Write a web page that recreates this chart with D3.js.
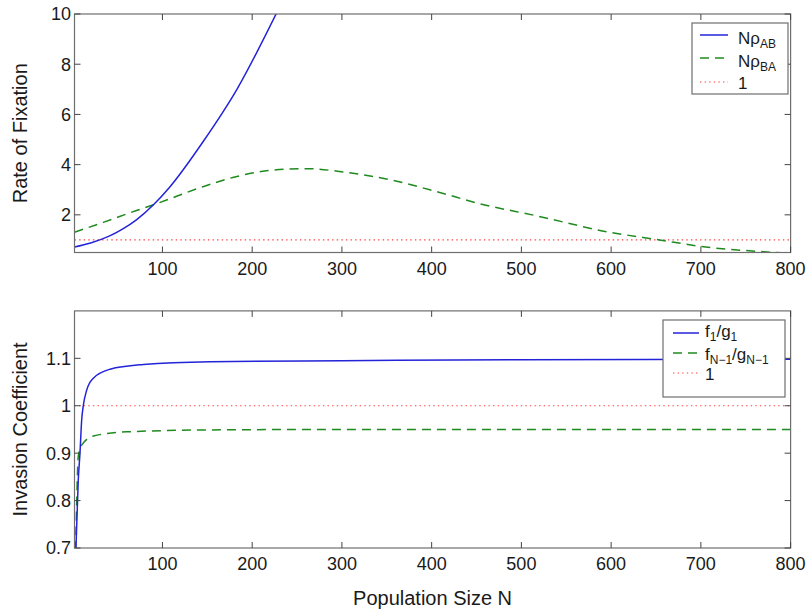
<!DOCTYPE html>
<html><head><meta charset="utf-8">
<script src="https://cdn.jsdelivr.net/npm/d3@7"></script>
<style>body{margin:0;background:#fff}svg{display:block;font-family:"Liberation Sans",Arial,Helvetica,sans-serif}</style>
</head><body><svg id="c" width="807" height="613"></svg>
<script>
// ---- data ----
const xTicks = [100, 200, 300, 400, 500, 600, 700, 800];
const topYTicks = [2, 4, 6, 8, 10];
const botYTicks = [0.7, 0.8, 0.9, 1, 1.1];

// top panel: N*rho_AB
const nAB   = [2, 20, 40, 55, 71, 90, 108, 146, 183, 228];
const rhoAB = [0.72, 0.88, 1.14, 1.42, 1.8, 2.4, 3.1, 4.95, 7.0, 10.1];
// top panel: N*rho_BA
const nBA   = [2, 34, 71, 90, 146, 183, 242, 261, 301, 357, 409, 454, 517, 595, 654, 703, 770, 800];
const rhoBA = [1.31, 1.7, 2.17, 2.4, 3.13, 3.53, 3.83, 3.84, 3.71, 3.37, 2.89, 2.44, 1.96, 1.33, 1.0, 0.73, 0.53, 0.47];
// bottom panel: f1/g1
const nF1 = [2, 3.7, 6.2, 8.1, 10, 11.8, 15.6, 23, 41.6, 78.7, 153, 300, 500, 800];
const f1g1 = [0.6, 0.703, 0.843, 0.9, 0.97, 1.0, 1.033, 1.058, 1.077, 1.087, 1.093, 1.095, 1.097, 1.098];
// bottom panel: f_{N-1}/g_{N-1}
const nFN = [2, 3.7, 6.2, 10, 23, 60, 153, 300, 500, 800];
const fNgN = [0.6, 0.738, 0.893, 0.917, 0.936, 0.945, 0.949, 0.95, 0.95, 0.95];
// reference line
const refN = [2, 800];
const refV = [1, 1];

// ---- layout ----
const svg = d3.select("#c");
const L = 74.5, R = 790.6;
const x = d3.scaleLinear().domain([2, 800]).range([L, R]);
const panels = [
  {y: d3.scaleLinear().domain([0.5, 10]).range([252.5, 14]), ticks: topYTicks, fmt: d3.format("d"),
   title: "Rate of Fixation", id: "t",
   series: [
     {n: nAB, v: rhoAB, color: "#2323d8", dash: null},
     {n: nBA, v: rhoBA, color: "#1f8a1f", dash: "9,6"},
     {n: refN, v: refV, color: "#ff4040", dash: "1.4,3.2", w: 1.2}
   ],
   legend: {x: 692, y: 23, w: 96, h: 71, sx0: 700, sx1: 728, tx: 738, rows: [35, 58, 82], base: [44, 67, 89],
     labels: [[["Nρ", 0], ["AB", 1]], [["Nρ", 0], ["BA", 1]], [["1", 0]]]}},
  {y: d3.scaleLinear().domain([0.7, 1.2]).range([548, 310.9]), ticks: botYTicks, fmt: d => String(+d.toFixed(1)),
   title: "Invasion Coefficient", id: "b",
   series: [
     {n: nF1, v: f1g1, color: "#2323d8", dash: null},
     {n: nFN, v: fNgN, color: "#1f8a1f", dash: "9,6"},
     {n: refN, v: refV, color: "#ff4040", dash: "1.4,3.2", w: 1.2}
   ],
   legend: {x: 663, y: 320, w: 122, h: 77, sx0: 673, sx1: 699, tx: 705, rows: [333, 353, 373], base: [337, 360, 380],
     labels: [[["f", 0], ["1", 1], ["/g", 0], ["1", 1]], [["f", 0], ["N−1", 1], ["/g", 0], ["N−1", 1]], [["1", 0]]]}}
];

const defs = svg.append("defs");
panels.forEach(p => {
  const [y0, y1] = p.y.range();
  defs.append("clipPath").attr("id", "clip" + p.id).append("rect")
    .attr("x", L).attr("y", y1).attr("width", R - L).attr("height", y0 - y1);

  const g = svg.append("g");
  const line = d3.line().x(d => x(d[0])).y(d => p.y(d[1])).curve(d3.curveMonotoneX);
  const lg = g.append("g").attr("clip-path", `url(#clip${p.id})`);
  [2, 1, 0].forEach(i => {
    const s = p.series[i];
    lg.append("path").attr("d", line(s.n.map((n, k) => [n, s.v[k]])))
      .attr("fill", "none").attr("stroke", s.color).attr("stroke-width", s.w || 1.5)
      .attr("stroke-dasharray", s.dash);
  });

  // frame
  g.append("rect").attr("x", L).attr("y", y1).attr("width", R - L).attr("height", y0 - y1)
    .attr("fill", "none").attr("stroke", "#6e6e6e").attr("stroke-width", 1.2);
  const tl = 6;
  xTicks.forEach(t => {
    g.append("line").attr("x1", x(t)).attr("x2", x(t)).attr("y1", y0).attr("y2", y0 - tl).attr("stroke", "#444");
    g.append("line").attr("x1", x(t)).attr("x2", x(t)).attr("y1", y1).attr("y2", y1 + tl).attr("stroke", "#444");
    g.append("text").attr("x", x(t)).attr("y", y0 + 22).attr("text-anchor", "middle")
      .attr("font-size", 18).attr("fill", "#1a1a1a").text(t);
  });
  p.ticks.forEach(t => {
    g.append("line").attr("x1", L).attr("x2", L + tl).attr("y1", p.y(t)).attr("y2", p.y(t)).attr("stroke", "#444");
    g.append("line").attr("x1", R).attr("x2", R - tl).attr("y1", p.y(t)).attr("y2", p.y(t)).attr("stroke", "#444");
    g.append("text").attr("x", 71).attr("y", p.y(t)).attr("dy", "0.36em").attr("text-anchor", "end")
      .attr("font-size", 18).attr("fill", "#1a1a1a").text(p.fmt(t));
  });
  g.append("text").attr("transform", `translate(27,${(y0 + y1) / 2}) rotate(-90)`)
    .attr("text-anchor", "middle").attr("font-size", 20).attr("fill", "#1a1a1a").text(p.title);

  // legend
  const lgd = p.legend;
  g.append("rect").attr("x", lgd.x).attr("y", lgd.y).attr("width", lgd.w).attr("height", lgd.h)
    .attr("fill", "#fff").attr("stroke", "#6e6e6e").attr("stroke-width", 1.2);
  p.series.forEach((s, i) => {
    g.append("line").attr("x1", lgd.sx0).attr("x2", lgd.sx1).attr("y1", lgd.rows[i]).attr("y2", lgd.rows[i])
      .attr("stroke", s.color).attr("stroke-width", s.w || 1.5).attr("stroke-dasharray", s.dash);
    const tx = g.append("text").attr("x", lgd.tx).attr("y", lgd.base[i]).attr("font-size", 17).attr("fill", "#1a1a1a");
    let sub = false;
    lgd.labels[i].forEach(([str, isSub]) => {
      const ts = tx.append("tspan").text(str);
      if (isSub && !sub) { ts.attr("font-size", 12).attr("dy", 3.5); sub = true; }
      else if (!isSub && sub) { ts.attr("dy", -3.5); sub = false; }
      else if (isSub) ts.attr("font-size", 12);
    });
  });
});

svg.append("text").attr("x", (L + R) / 2).attr("y", 605).attr("text-anchor", "middle")
  .attr("font-size", 20).attr("fill", "#1a1a1a").text("Population Size N");
</script>
</body></html>
